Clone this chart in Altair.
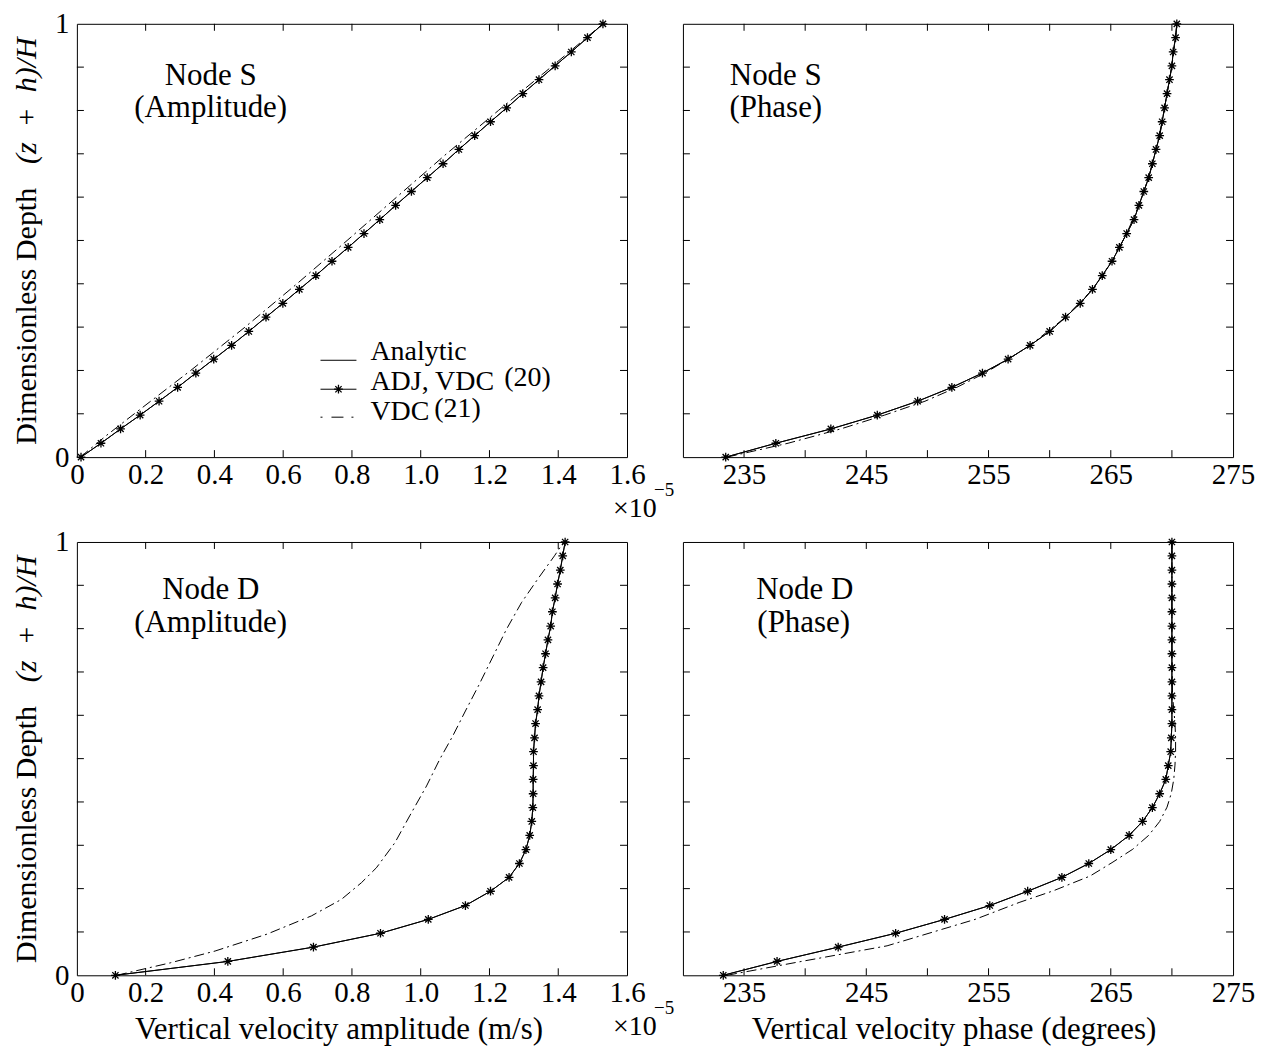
import altair as alt
import pandas as pd

FONT = "Liberation Serif"
W, H = 551, 434

# ---------------- data ----------------
Y_LEVELS = [0.0, 0.032, 0.065, 0.097, 0.129, 0.161, 0.194, 0.226, 0.258, 0.290,
            0.323, 0.355, 0.387, 0.419, 0.452, 0.484, 0.516, 0.548, 0.581, 0.613,
            0.645, 0.677, 0.710, 0.742, 0.774, 0.806, 0.839, 0.871, 0.903, 0.935,
            0.968, 1.0]
Y_TICKS = [0.1, 0.2, 0.3, 0.4, 0.5, 0.6, 0.7, 0.8, 0.9]
Y_LABELS = [0, 1]

AMP_LABELS = [0, 0.2, 0.4, 0.6, 0.8, 1.0, 1.2, 1.4, 1.6]
AMP_TICKS = [0.2, 0.4, 0.6, 0.8, 1.0, 1.2, 1.4]
PHASE_LABELS = [235, 245, 255, 265, 275]
PHASE_TICKS = [235, 240, 245, 250, 255, 260, 265, 270]

# Node S amplitude (x 1e-5 m/s)
S_AMP_ADJ = [0.012, 0.070, 0.127, 0.184, 0.239, 0.293, 0.346, 0.398, 0.450, 0.500,
             0.550, 0.599, 0.647, 0.695, 0.742, 0.789, 0.835, 0.881, 0.927, 0.973,
             1.019, 1.065, 1.111, 1.157, 1.203, 1.250, 1.297, 1.344, 1.391, 1.438,
             1.485, 1.530]
S_AMP_ANALYTIC = S_AMP_ADJ
S_AMP_VDC_Y = [0.0, 0.05, 0.1, 0.2, 0.3, 0.4, 0.5, 0.6, 0.7, 0.8, 0.9, 1.0]
S_AMP_VDC_X = [0.010, 0.086, 0.167, 0.331, 0.489, 0.640, 0.786, 0.930, 1.075, 1.226, 1.379, 1.530]

# Node S phase (degrees)
S_PH_ADJ = [233.5, 237.6, 242.1, 245.9, 249.2, 252.0, 254.5, 256.6, 258.4, 260.0,
            261.3, 262.5, 263.5, 264.3, 265.1, 265.7, 266.3, 266.9, 267.3, 267.7,
            268.1, 268.4, 268.7, 269.0, 269.2, 269.4, 269.6, 269.8, 270.0, 270.1,
            270.3, 270.4]
S_PH_ANALYTIC = S_PH_ADJ
S_PH_VDC_Y = [0.0, 0.032, 0.065, 0.097, 0.129, 0.161, 0.194, 0.226, 0.258, 0.323,
              0.387, 0.452, 0.516, 0.581, 0.645, 0.710, 0.774, 0.839, 0.903, 0.968, 1.0]
S_PH_VDC_X = [233.6, 238.6, 242.9, 246.5, 249.8, 252.4, 254.7, 256.6, 258.4, 261.3,
              263.5, 265.1, 266.3, 267.3, 268.1, 268.7, 269.2, 269.6, 270.0, 270.3, 270.4]

# Node D amplitude (x 1e-5 m/s)
D_AMP_ADJ = [0.112, 0.439, 0.688, 0.883, 1.022, 1.130, 1.203, 1.257, 1.287, 1.306,
             1.317, 1.323, 1.326, 1.327, 1.327, 1.328, 1.328, 1.331, 1.334, 1.340,
             1.344, 1.350, 1.356, 1.363, 1.370, 1.378, 1.383, 1.391, 1.398, 1.406,
             1.413, 1.420]
D_AMP_ANALYTIC = D_AMP_ADJ
D_AMP_VDC_Y = [0.0, 0.029, 0.056, 0.095, 0.137, 0.175, 0.214, 0.248, 0.306, 0.368,
               0.437, 0.498, 0.552, 0.610, 0.668, 0.737, 0.798, 0.860, 0.914, 0.968, 1.0]
D_AMP_VDC_X = [0.116, 0.273, 0.402, 0.553, 0.682, 0.769, 0.828, 0.871, 0.925, 0.968,
               1.017, 1.055, 1.093, 1.130, 1.168, 1.211, 1.249, 1.293, 1.340, 1.389, 1.416]

# Node D phase (degrees)
D_PH_ADJ = [233.3, 237.7, 242.7, 247.4, 251.4, 255.1, 258.2, 261.0, 263.2, 265.0,
            266.5, 267.6, 268.4, 269.0, 269.5, 269.7, 269.9, 269.95, 270.0, 270.0,
            270.0, 270.0, 270.0, 270.0, 270.0, 270.0, 270.0, 270.0, 270.0, 270.0,
            270.0, 270.0]
D_PH_ANALYTIC = D_PH_ADJ
D_PH_VDC_Y = [0.0, 0.032, 0.068, 0.129, 0.168, 0.195, 0.229, 0.260, 0.291, 0.323,
              0.355, 0.388, 0.420, 0.452, 0.485, 0.517, 0.549, 0.582, 0.614, 0.646,
              0.75, 0.9, 1.0]
D_PH_VDC_X = [233.6, 239.7, 246.7, 253.9, 257.5, 260.3, 263.3, 265.1, 266.8, 268.1,
              269.0, 269.6, 269.95, 270.15, 270.25, 270.3, 270.3, 270.25, 270.15, 270.05,
              270.0, 270.0, 270.0]

STAR = "M0,-1L0,1M-1,0L1,0M-0.72,-0.72L0.72,0.72M-0.72,0.72L0.72,-0.72"
DASHDOT = [10, 4, 2, 4]
STAR_SIZE = 76


def text(s, x, y, size=31, align="center", italic=False, angle=None):
    kw = dict(font=FONT, fontSize=size, align=align, baseline="alphabetic", color="black")
    if italic:
        kw["fontStyle"] = "italic"
    if angle is not None:
        kw["angle"] = angle
    return alt.Chart(pd.DataFrame({"t": [s]})).mark_text(**kw).encode(
        x=alt.value(x), y=alt.value(y), text="t:N")


def panel(an_x, adj_x, vdc_y, vdc_x, domain, label_vals, tick_vals, label_expr,
          left, bottom, xtitle, title_x, notes, legend=False):
    xs = alt.Scale(domain=domain, nice=False, zero=False)
    ys = alt.Scale(domain=[0, 1], nice=False, zero=False)
    axis_kw = dict(values=label_vals, labelExpr=label_expr, ticks=False, tickSize=0,
                   domain=False, grid=False, labelFont=FONT, labelFontSize=29,
                   labelColor="black", labelPadding=3, labelFlush=False,
                   labelOverlap=False)
    if bottom:
        axis_kw.update(titleFont=FONT, titleFontSize=31, titleFontWeight="normal",
                       titleColor="black", titleX=title_x, titleY=63,
                       titleBaseline="alphabetic", titleAlign="center")
        X = alt.X("x:Q", scale=xs, axis=alt.Axis(**axis_kw), title=xtitle)
    else:
        X = alt.X("x:Q", scale=xs, axis=alt.Axis(**axis_kw), title=None)
    if left:
        yaxis = alt.Axis(values=Y_LABELS, format="d", ticks=False, tickSize=0,
                         domain=False, grid=False, labelFont=FONT, labelFontSize=29,
                         labelColor="black", labelPadding=8, labelFlush=False,
                         labelOverlap=False)
        Y = alt.Y("y:Q", scale=ys, axis=yaxis, title=None)
    else:
        Y = alt.Y("y:Q", scale=ys, axis=None)

    an = pd.DataFrame({"x": an_x, "y": Y_LEVELS})
    adj = pd.DataFrame({"x": adj_x, "y": Y_LEVELS})
    vdc = pd.DataFrame({"x": vdc_x, "y": vdc_y})
    xt = pd.DataFrame({"x": tick_vals})
    yt = pd.DataFrame({"y": Y_TICKS})

    layers = [
        alt.Chart(xt).mark_rule(color="black", strokeWidth=1).encode(
            x=X, y=alt.value(H), y2=alt.value(H - 7)),
        alt.Chart(xt).mark_rule(color="black", strokeWidth=1).encode(
            x=X, y=alt.value(0), y2=alt.value(7)),
        alt.Chart(yt).mark_rule(color="black", strokeWidth=1).encode(
            y=Y, x=alt.value(0), x2=alt.value(7)),
        alt.Chart(yt).mark_rule(color="black", strokeWidth=1).encode(
            y=Y, x=alt.value(W), x2=alt.value(W - 7)),
        alt.Chart(vdc).mark_line(color="black", strokeWidth=1, strokeDash=DASHDOT).encode(
            x=X, y=Y, order="y:Q"),
        alt.Chart(an).mark_line(color="black", strokeWidth=1).encode(
            x=X, y=Y, order="y:Q"),
        alt.Chart(adj).mark_line(color="black", strokeWidth=1).encode(
            x=X, y=Y, order="y:Q"),
        alt.Chart(adj).mark_point(shape=STAR, size=STAR_SIZE, filled=False, color="black",
                                  strokeWidth=1.3, opacity=1).encode(x=X, y=Y),
    ]
    for (s, x, y) in notes:
        layers.append(text(s, x, y))
    if left:
        layers.append(text("Dimensionless Depth", -41, 293, size=30, angle=270))
        layers.append(text("(z\u2002+\u2002h)/H", -41, 77, size=30, italic=True, angle=270))
        layers.append(text("\u00d710", 537, 494, size=28, align="left"))
        layers.append(text("\u22125", 578, 473, size=19, align="left"))
    if legend:
        layers += [
            alt.Chart(pd.DataFrame({"a": [0]})).mark_rule(color="black", strokeWidth=1).encode(
                x=alt.value(244), x2=alt.value(280), y=alt.value(337)),
            alt.Chart(pd.DataFrame({"a": [0]})).mark_rule(color="black", strokeWidth=1).encode(
                x=alt.value(244), x2=alt.value(280), y=alt.value(366)),
            alt.Chart(pd.DataFrame({"a": [0]})).mark_point(
                shape=STAR, size=STAR_SIZE, filled=False, color="black", strokeWidth=1.3,
                opacity=1).encode(x=alt.value(262), y=alt.value(366)),
            alt.Chart(pd.DataFrame({"a": [0]})).mark_rule(
                color="black", strokeWidth=1, strokeDash=[2, 9, 12, 8]).encode(
                x=alt.value(244), x2=alt.value(280), y=alt.value(394)),
            text("Analytic", 294, 337, size=28, align="left"),
            text("ADJ, VDC", 294, 367, size=28, align="left"),
            text("(20)", 428, 363, size=28, align="left"),
            text("VDC", 294, 397, size=28, align="left"),
            text("(21)", 358, 394, size=28, align="left"),
        ]
    return alt.layer(*layers).properties(width=W, height=H)


AMP_EXPR = "datum.value == 0 ? '0' : format(datum.value, '.1f')"
PH_EXPR = "format(datum.value, 'd')"

p1 = panel(S_AMP_ANALYTIC, S_AMP_ADJ, S_AMP_VDC_Y, S_AMP_VDC_X, [0, 1.6], AMP_LABELS,
           AMP_TICKS, AMP_EXPR, True, False, None, 0,
           [("Node S", 134, 61), ("(Amplitude)", 134, 93)], legend=True)
p2 = panel(S_PH_ANALYTIC, S_PH_ADJ, S_PH_VDC_Y, S_PH_VDC_X, [230, 275], PHASE_LABELS,
           PHASE_TICKS, PH_EXPR, False, False, None, 0,
           [("Node S", 93, 61), ("(Phase)", 93, 93)])
p3 = panel(D_AMP_ANALYTIC, D_AMP_ADJ, D_AMP_VDC_Y, D_AMP_VDC_X, [0, 1.6], AMP_LABELS,
           AMP_TICKS, AMP_EXPR, True, True, "Vertical velocity amplitude (m/s)", 262,
           [("Node D", 134, 57), ("(Amplitude)", 134, 90)])
p4 = panel(D_PH_ANALYTIC, D_PH_ADJ, D_PH_VDC_Y, D_PH_VDC_X, [230, 275], PHASE_LABELS,
           PHASE_TICKS, PH_EXPR, False, True, "Vertical velocity phase (degrees)", 271,
           [("Node D", 122, 57), ("(Phase)", 121, 90)])

chart = alt.concat(p1, p2, p3, p4, columns=2).properties(
    spacing={"row": 85, "column": 56},
    bounds="flush",
    padding={"left": 3, "top": 0, "right": 5, "bottom": 5},
    background="white",
).configure_view(stroke="black", strokeWidth=1)

chart.save("out.html", embed_options={"renderer": "svg", "actions": False})
